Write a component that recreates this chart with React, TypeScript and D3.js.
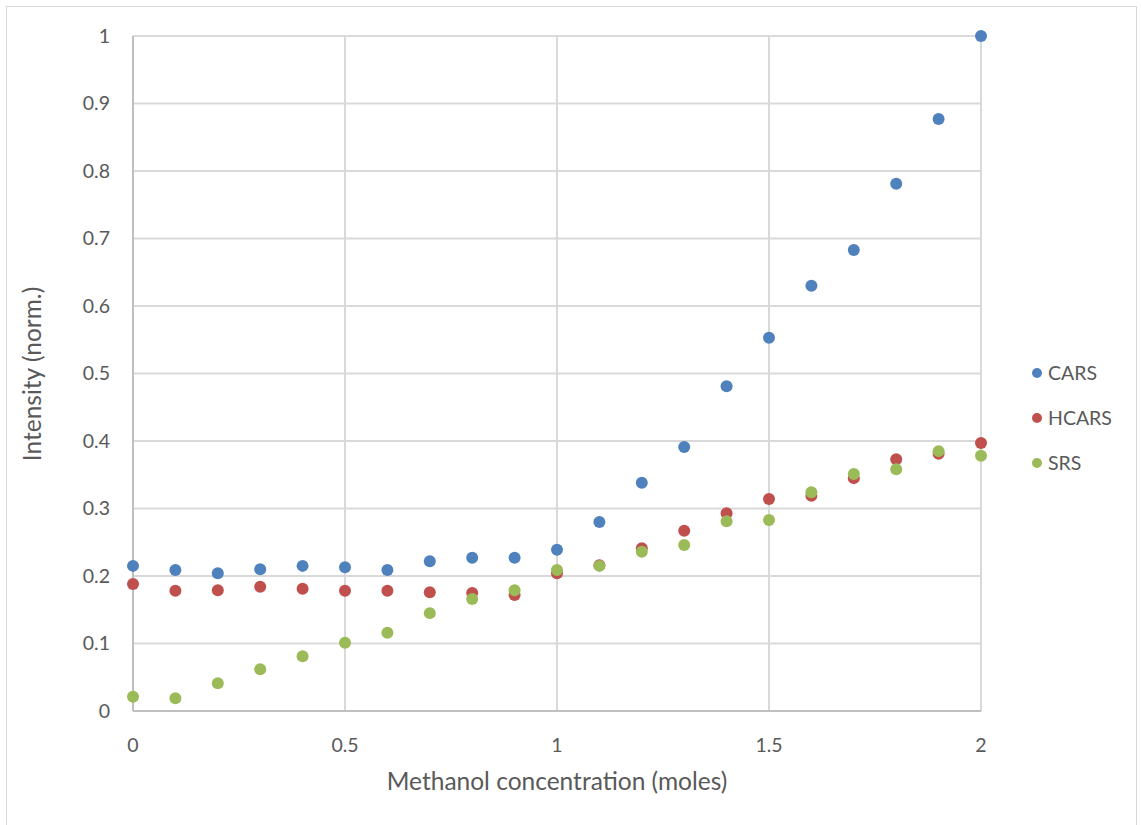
import React from "react";
import * as d3 from "d3";

const xValues = [0, 0.1, 0.2, 0.3, 0.4, 0.5, 0.6, 0.7, 0.8, 0.9, 1.0, 1.1, 1.2, 1.3, 1.4, 1.5, 1.6, 1.7, 1.8, 1.9, 2.0];
const cars = [0.215, 0.209, 0.204, 0.21, 0.215, 0.213, 0.209, 0.222, 0.227, 0.227, 0.239, 0.28, 0.338, 0.391, 0.481, 0.553, 0.63, 0.683, 0.781, 0.877, 1.0];
const hcars = [0.188, 0.178, 0.179, 0.184, 0.181, 0.178, 0.178, 0.176, 0.175, 0.172, 0.204, 0.216, 0.241, 0.267, 0.293, 0.314, 0.319, 0.345, 0.373, 0.381, 0.397];
const srs = [0.021, 0.019, 0.041, 0.062, 0.081, 0.101, 0.116, 0.145, 0.166, 0.179, 0.209, 0.215, 0.236, 0.246, 0.281, 0.283, 0.324, 0.351, 0.358, 0.385, 0.378];
const seriesNames = ["CARS", "HCARS", "SRS"];
const xTicks = [0, 0.5, 1, 1.5, 2];
const yTicks = [0, 0.1, 0.2, 0.3, 0.4, 0.5, 0.6, 0.7, 0.8, 0.9, 1];

const colors = ["#4f81bd", "#c0504d", "#9bbb59"];

export default function App() {
  const W = 1141, H = 825;
  const left = 133, right = 981, top = 36, bottom = 711;
  const x = d3.scaleLinear().domain([0, 2]).range([left, right]);
  const y = d3.scaleLinear().domain([0, 1]).range([bottom, top]);
  const data = [cars, hcars, srs];
  const font = "Lato, 'Open Sans', sans-serif";
  const textColor = "#595959";
  const legendY = [373, 418, 463];
  return (
    <svg width={W} height={H} style={{ position: "absolute", left: 0, top: 0, background: "#fff" }} fontFamily={font}>
      <rect x={6.5} y={6.5} width={1130} height={840} fill="#fff" stroke="#d9d9d9" strokeWidth={1} />
      {yTicks.slice(1).map((t) => (
        <line key={"gy" + t} x1={left} x2={right} y1={y(t)} y2={y(t)} stroke="#d9d9d9" strokeWidth={2} />
      ))}
      {xTicks.slice(1).map((t) => (
        <line key={"gx" + t} x1={x(t)} x2={x(t)} y1={top} y2={bottom} stroke="#d9d9d9" strokeWidth={2} />
      ))}
      <line x1={left} x2={left} y1={top} y2={bottom} stroke="#bfbfbf" strokeWidth={2} />
      <line x1={left} x2={right} y1={bottom} y2={bottom} stroke="#bfbfbf" strokeWidth={2} />
      {yTicks.map((t) => (
        <text key={"ty" + t} x={110} y={y(t)} dy="0.35em" textAnchor="end" fontSize={19.5} fill={textColor}>
          {d3.format("")(t)}
        </text>
      ))}
      {xTicks.map((t) => (
        <text key={"tx" + t} x={x(t)} y={745} dy="0.35em" textAnchor="middle" fontSize={19.5} fill={textColor}>
          {d3.format("")(t)}
        </text>
      ))}
      <text x={557} y={781} dy="0.35em" textAnchor="middle" fontSize={24.5} fill={textColor}>
        Methanol concentration (moles)
      </text>
      <text transform={`translate(32,374) rotate(-90)`} dy="0.35em" textAnchor="middle" fontSize={24.5} fill={textColor}>
        Intensity (norm.)
      </text>
      {data.map((s, si) => (
        <g key={seriesNames[si]}>
          {s.map((v, i) => (
            <circle key={i} cx={x(xValues[i])} cy={y(v)} r={6} fill={colors[si]} />
          ))}
        </g>
      ))}
      {seriesNames.map((n, i) => (
        <g key={"lg" + n}>
          <circle cx={1037} cy={legendY[i]} r={5} fill={colors[i]} />
          <text x={1048} y={legendY[i]} dy="0.35em" fontSize={19.5} fill={textColor}>
            {n}
          </text>
        </g>
      ))}
    </svg>
  );
}
